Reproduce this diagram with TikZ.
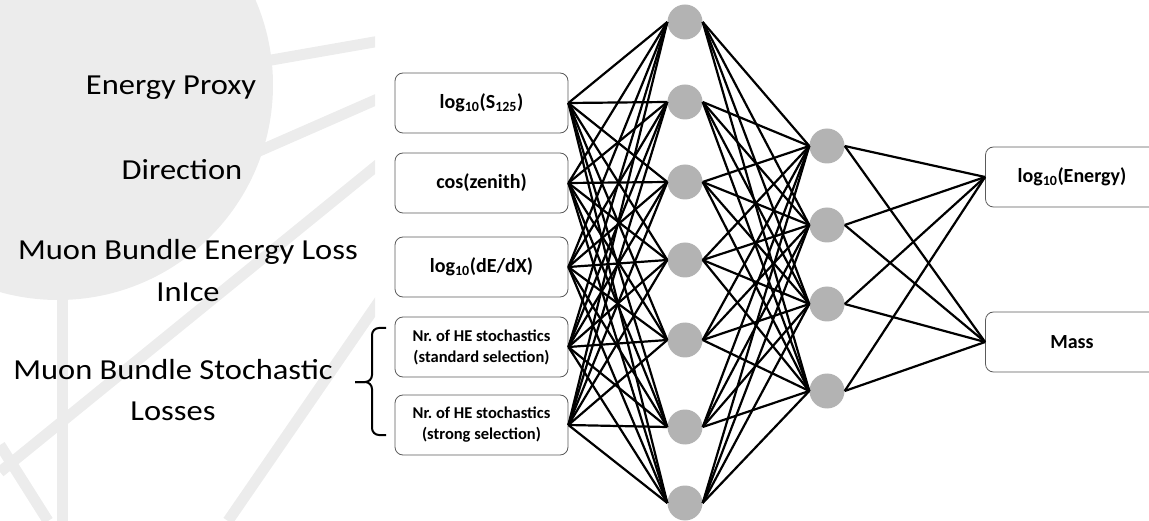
\documentclass[tikz,border=0pt]{standalone}
\usepackage{fontspec}
\setmainfont{Carlito}
\newfontfamily\labelfont[FakeStretch=1.12]{Carlito}
\definecolor{markgray}{HTML}{ECECEC}
\definecolor{unitgray}{HTML}{B3B3B3}
\definecolor{boxline}{HTML}{5A5A5A}
\tikzset{
  featbox/.style={draw=boxline, line width=0.8pt, rounded corners=8pt, fill=white,
    minimum width=173pt, minimum height=60pt, align=center, font={\bfseries\fontsize{20}{24}\selectfont}},
  smallbox/.style={featbox, font={\bfseries\fontsize{16.5}{21}\selectfont}},
  unit/.style={circle, fill=unitgray, minimum size=35pt, inner sep=0pt},
  link/.style={line width=2.2pt, black},
  biglabel/.style={anchor=base, font={\labelfont\fontsize{29}{36}\selectfont}},
  markband/.style={line width=11pt, markgray},
  bracket/.style={line width=2pt, rounded corners=7pt},
}

\begin{document}
\begin{tikzpicture}[x=1pt, y=-1pt]
			%%%%% START %%%%%
			\useasboundingbox (0,0) rectangle (1149,521);
			
			% faint logo in the slide background
			\begin{scope}
				\clip (0,0) rectangle (375,521);
				\fill[markgray] (58,85) circle (215);
				\draw[markband] (260,62) -- (380,41);
				\draw[markband] (250,155) -- (380,98);
				\draw[markband] (380,163) -- (0,472);
				\draw[markband] (380,300) -- (228,521);
				\draw[markband] (62,250) -- (62,521);
				\draw[markband] (0,445) -- (48,521);
			\end{scope}
			
			% labels on the left
			\node[biglabel] (lproxy) at (171,95) {Energy Proxy};
			\node[biglabel] (ldir) at (182,180) {Direction};
			\node[biglabel] (llossa) at (188,260) {Muon Bundle Energy Loss};
			\node[biglabel] (llossb) at (188,302) {InIce};
			\node[biglabel] (lstocha) at (173,380) {Muon Bundle Stochastic};
			\node[biglabel] (lstochb) at (173,420) {Losses};
			
			\draw[bracket] (386,328) -- (372,328) -- (372,382) -- (355,382);
			\draw[bracket] (386,435) -- (372,435) -- (372,382) -- (355,382);
			
			% input features
			\node[featbox] (feat1) at (481.5,103) {log\textsubscript{10}(S\textsubscript{125})};
			\node[featbox] (feat2) at (481.5,183) {cos(zenith)};
			\node[featbox] (feat3) at (481.5,267) {log\textsubscript{10}(dE/dX)};
			\node[smallbox] (feat4) at (481.5,347) {Nr.\ of HE stochastics\\(standard selection)};
			\node[smallbox] (feat5) at (481.5,425) {Nr.\ of HE stochastics\\(strong selection)};
			
			% hidden layers
			\foreach \y [count=\k] in {22,102,182,260,340,427,503}
				\node[unit] (hid\k) at (685,\y) {};
			\foreach \y [count=\k] in {146,225,304,391}
				\node[unit] (hidb\k) at (827,\y) {};
			
			% outputs
			\node[featbox] (out1) at (1072,177) {log\textsubscript{10}(Energy)};
			\node[featbox] (out2) at (1072,342) {Mass};
			
			% connections
			\foreach \i in {1,...,5}
				\foreach \j in {1,...,7}
					\draw[link] (feat\i.east) -- (hid\j.west);
			\foreach \i in {1,...,7}
				\foreach \j in {1,...,4}
					\draw[link] (hid\i.east) -- (hidb\j.west);
			\foreach \i in {1,...,4}
				\foreach \j in {1,2}
					\draw[link] (hidb\i.east) -- (out\j.west);
			
			%%%%% END %%%%%
\end{tikzpicture}
\end{document}
